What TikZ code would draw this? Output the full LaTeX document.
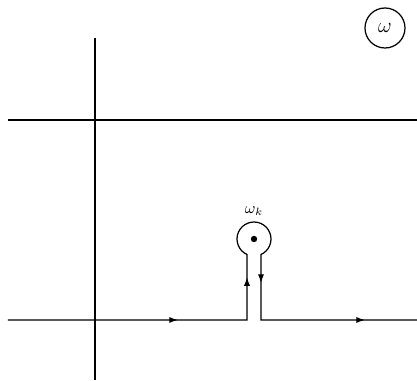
\documentclass[tikz,border=0pt]{standalone}
\usetikzlibrary{decorations.markings,arrows.meta}

\tikzset{
  axisline/.style={line width=0.6pt},
  contour/.style={line width=0.7pt,
    postaction={decorate},
    decoration={markings,
      mark=at position 0.275 with {\arrow{Latex[length=5pt,width=3.5pt]}},
      mark=at position 0.456 with {\arrow{Latex[length=5pt,width=3.5pt]}},
      mark=at position 0.688 with {\arrow{Latex[length=5pt,width=3.5pt]}},
      mark=at position 0.916 with {\arrow{Latex[length=5pt,width=3.5pt]}}}},
  planelabel/.style={circle,draw,line width=0.7pt,minimum size=40*0.02cm,inner sep=0pt,font=\large},
}

\begin{document}
\begin{tikzpicture}[x=0.02cm,y=0.02cm]
\useasboundingbox (0,0) rectangle (417,381);

% axes
\draw[axisline] (95,343) -- (95,1);
\draw[axisline] (8,261) -- (417,261);

% plane label
\node[planelabel] (omega) at (385,353) {$\omega$};

% pole
\coordinate (pole) at (254,142);
\fill (pole) circle (3.2);
\node[font=\small] (wk) at (254,170) {$\omega_k$};

% contour with keyhole around the pole
\draw[contour] (8,61) -- (247,61) -- (247,126.5)
  arc[start angle=245.7, end angle=-65.7, radius=17]
  -- (261,61) -- (417,61);

\end{tikzpicture}
\end{document}
